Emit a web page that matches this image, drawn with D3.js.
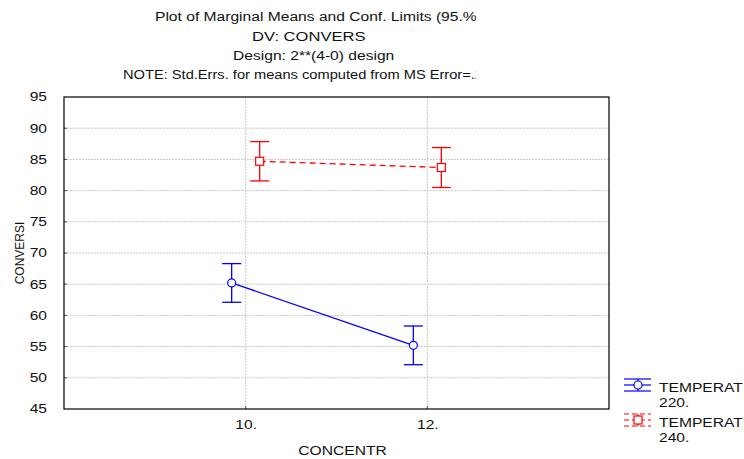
<!DOCTYPE html>
<html>
<head>
<meta charset="utf-8">
<script src="https://cdn.jsdelivr.net/npm/d3@7"></script>
<style>
  body { margin: 0; background: #fff; }
  svg { display: block; font-family: "Liberation Sans", Arial, sans-serif; }
</style>
</head>
<body>
<div id="chart"></div>
<script>
// data
const concentr = [10, 12];
const yTicks = [45, 50, 55, 60, 65, 70, 75, 80, 85, 90, 95];
const temps = ["220.", "240."];
const means220 = [65.2, 55.2];
const means240 = [84.7, 83.7];
const ci220 = [3.1, 3.1];
const ci240 = [3.15, 3.2];
const titleLines = [
  "Plot of Marginal Means and Conf. Limits (95.%)",
  "DV: CONVERS",
  "Design: 2**(4-0) design",
  "NOTE: Std.Errs. for means computed from MS Error=.2"
];

const W = 744, H = 459;
const plot = { left: 64, right: 609, top: 97, bottom: 409 };
const stretchX = 1.3; // picture text is wider than tall

const svg = d3.select("#chart").append("svg")
  .attr("width", W).attr("height", H);

const x = d3.scaleLinear().domain([8, 14]).range([plot.left, plot.right]);
const y = d3.scaleLinear().domain([45, 95]).range([plot.bottom, plot.top]);

function stretch(sel, k) {
  k = k || stretchX;
  sel.each(function() {
    const len = this.getComputedTextLength();
    d3.select(this).attr("textLength", len * k).attr("lengthAdjust", "spacingAndGlyphs");
  });
}

// clip for title
svg.append("clipPath").attr("id", "titleClip")
  .append("rect").attr("x", 0).attr("y", 0).attr("width", 476).attr("height", 90);

const titleG = svg.append("g").attr("clip-path", "url(#titleClip)");
const titleX = [155, 252, 233, 123];
const titleY = [21, 40.5, 60, 79];
const titleK = [1.3, 1.38, 1.3, 1.22];
titleLines.forEach((t, i) => {
  titleG.append("text")
    .attr("x", titleX[i]).attr("y", titleY[i])
    .attr("font-size", "12px").attr("fill", "#111")
    .text(t).call(stretch, titleK[i]);
});

// grid lines
svg.append("g")
  .selectAll("line")
  .data(yTicks.slice(1, -1))
  .join("line")
  .attr("x1", plot.left).attr("x2", plot.right)
  .attr("y1", d => y(d)).attr("y2", d => y(d))
  .attr("stroke", "#c8c8c8").attr("stroke-dasharray", "2,1");

svg.append("g")
  .selectAll("line")
  .data(concentr)
  .join("line")
  .attr("x1", d => x(d)).attr("x2", d => x(d))
  .attr("y1", plot.top).attr("y2", plot.bottom)
  .attr("stroke", "#c8c8c8").attr("stroke-dasharray", "2,1");

// y axis
const yAxis = svg.append("g")
  .attr("transform", `translate(${plot.left},0)`)
  .call(d3.axisLeft(y).tickValues(yTicks).tickSize(0).tickPadding(17));
yAxis.select(".domain").remove();
yAxis.selectAll("text").attr("font-size", "12px").attr("fill", "#111")
  .attr("font-family", "Liberation Sans, Arial, sans-serif").call(stretch);

// x axis
const xAxis = svg.append("g")
  .attr("transform", `translate(0,${plot.bottom})`)
  .call(d3.axisBottom(x).tickValues(concentr).tickFormat(d => d + ".").tickSize(0).tickPadding(11));
xAxis.select(".domain").remove();
xAxis.selectAll("text").attr("font-size", "12px").attr("fill", "#111")
  .attr("font-family", "Liberation Sans, Arial, sans-serif").call(stretch);

// small inside ticks
svg.append("g").selectAll("line").data(yTicks.slice(1, -1)).join("line")
  .attr("x1", plot.left).attr("x2", plot.left + 3)
  .attr("y1", d => y(d)).attr("y2", d => y(d)).attr("stroke", "#555");
svg.append("g").selectAll("line").data(concentr).join("line")
  .attr("x1", d => x(d)).attr("x2", d => x(d))
  .attr("y1", plot.bottom).attr("y2", plot.bottom - 3).attr("stroke", "#555");

// frame
svg.append("rect")
  .attr("x", plot.left).attr("y", plot.top)
  .attr("width", plot.right - plot.left).attr("height", plot.bottom - plot.top)
  .attr("fill", "none").attr("stroke", "#000").attr("stroke-width", 1.2);

// axis titles
svg.append("text")
  .attr("x", (plot.left + plot.right) / 2 + 6).attr("y", 455)
  .attr("text-anchor", "middle").attr("font-size", "12px").attr("fill", "#111")
  .text("CONCENTR").call(stretch);

svg.append("text")
  .attr("transform", `translate(24,${(plot.top + plot.bottom) / 2}) rotate(-90)`)
  .attr("text-anchor", "middle").attr("font-size", "12px").attr("fill", "#111")
  .text("CONVERSI");

// series
const series = [
  { name: temps[0], means: means220, ci: ci220, color: "#0000ff", dash: null, marker: "circle", dx: -14 },
  { name: temps[1], means: means240, ci: ci240, color: "#ff0000", dash: "6,4", marker: "square", dx: 14 }
];
const capHalf = 9.5;

series.forEach(s => {
  const pts = concentr.map((c, i) => ({ c, m: s.means[i], e: s.ci[i] }));
  const px = d => x(d.c) + s.dx;
  const g = svg.append("g");

  g.append("path").datum(pts)
    .attr("d", d3.line().x(px).y(d => y(d.m)))
    .attr("fill", "none").attr("stroke", s.color).attr("stroke-width", 1.3)
    .attr("stroke-dasharray", s.dash);

  g.selectAll(".bar").data(pts).join("line").attr("class", "bar")
    .attr("x1", px).attr("x2", px)
    .attr("y1", d => y(d.m - d.e)).attr("y2", d => y(d.m + d.e))
    .attr("stroke", s.color).attr("stroke-width", 1.3);
  g.selectAll(".capT").data(pts).join("line").attr("class", "capT")
    .attr("x1", d => px(d) - capHalf).attr("x2", d => px(d) + capHalf)
    .attr("y1", d => y(d.m + d.e)).attr("y2", d => y(d.m + d.e))
    .attr("stroke", s.color).attr("stroke-width", 1.3);
  g.selectAll(".capB").data(pts).join("line").attr("class", "capB")
    .attr("x1", d => px(d) - capHalf).attr("x2", d => px(d) + capHalf)
    .attr("y1", d => y(d.m - d.e)).attr("y2", d => y(d.m - d.e))
    .attr("stroke", s.color).attr("stroke-width", 1.3);

  if (s.marker === "circle") {
    g.selectAll(".mk").data(pts).join("circle").attr("class", "mk")
      .attr("cx", px).attr("cy", d => y(d.m)).attr("r", 4)
      .attr("fill", "#fff").attr("stroke", s.color).attr("stroke-width", 1.2);
  } else {
    g.selectAll(".mk").data(pts).join("rect").attr("class", "mk")
      .attr("x", d => px(d) - 4).attr("y", d => y(d.m) - 4)
      .attr("width", 8).attr("height", 8)
      .attr("fill", "#fff").attr("stroke", s.color).attr("stroke-width", 1.2);
  }
});

// legend
const legTop = [385, 420];
series.forEach((s, i) => {
  const cy = legTop[i];
  const g = svg.append("g");
  [-6, 0, 6].forEach(o => {
    g.append("line").attr("x1", 624).attr("x2", 651).attr("y1", cy + o).attr("y2", cy + o)
      .attr("stroke", s.color).attr("stroke-width", 1.2).attr("stroke-dasharray", s.dash ? "5,3" : null);
  });
  g.append("line").attr("x1", 638).attr("x2", 638).attr("y1", cy - 6).attr("y2", cy + 6)
    .attr("stroke", s.color).attr("stroke-width", 1.2);
  if (s.marker === "circle") {
    g.append("circle").attr("cx", 638).attr("cy", cy).attr("r", 4)
      .attr("fill", "#fff").attr("stroke", s.color).attr("stroke-width", 1.2);
  } else {
    g.append("rect").attr("x", 634).attr("y", cy - 4).attr("width", 8).attr("height", 8)
      .attr("fill", "#fff").attr("stroke", s.color).attr("stroke-width", 1.2);
  }
  g.append("text").attr("x", 659).attr("y", cy + 7).attr("font-size", "12px").attr("fill", "#111")
    .text("TEMPERAT").call(stretch);
  g.append("text").attr("x", 659).attr("y", cy + 22).attr("font-size", "12px").attr("fill", "#111")
    .text(s.name).call(stretch);
});
</script>
</body>
</html>
